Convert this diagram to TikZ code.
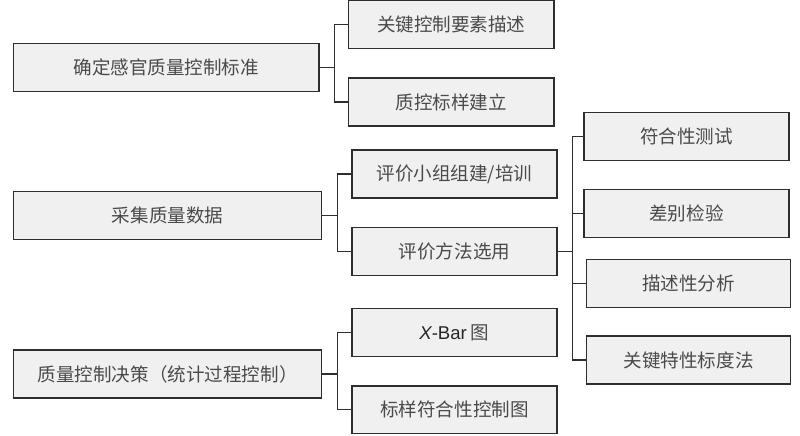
\documentclass[tikz,border=0pt]{standalone}
\usepackage{fontspec}
\setmainfont{Noto Sans CJK SC}
\newfontfamily\latinsans{Liberation Sans}
\usetikzlibrary{calc,positioning}
\definecolor{boxfill}{HTML}{F0F0F0}
\definecolor{boxline}{HTML}{2E2E2E}
\definecolor{boxtext}{HTML}{4A4A4A}
\begin{document}
\begin{tikzpicture}[line width=0.95pt,
    box/.style={draw=boxline,fill=boxfill,text=boxtext,anchor=west,inner sep=0pt,
      minimum height=1.2cm,font=\fontsize{13.2}{15}\selectfont},
    wide/.style={box,minimum width=7.7cm},
    small/.style={box,minimum width=5.13cm},
    link/.style={draw=boxline}]
  \useasboundingbox (0,0) rectangle (20,-10.875);
  % left column
  \node[wide, minimum width=7.63cm] (1) at (0.325,-1.69) {确定感官质量控制标准};
  \node[wide] (4) at (0.325,-5.39) {采集质量数据};
  \node[wide] (11) at (0.325,-9.35) {质量控制决策（统计过程控制）};
  % middle column
  \node[small] (2) at (8.7,-0.62) {关键控制要素描述};
  \node[small] (3) at (8.7,-2.55) {质控标样建立};
  \node[small] (5) at (8.78,-4.35) {评价小组组建/培训};
  \node[small] (6) at (8.78,-6.28) {评价方法选用};
  \node[small] (12) at (8.78,-8.31) {{\latinsans\color{black!85}\itshape X}{\latinsans\color{black!85}-Bar} 图};
  \node[small, minimum height=1.18cm] (13) at (8.78,-10.24) {标样符合性控制图};
  % right column
  \node[small] (7) at (14.58,-3.41) {符合性测试};
  \node[small] (8) at (14.58,-5.33) {差别检验};
  \node[small, minimum width=5.1cm] (9) at (14.65,-7.08) {描述性分析};
  \node[small, minimum width=5.1cm] (10) at (14.65,-9.0) {关键特性标度法};

  \foreach \c in {2,3}
    \draw[link] (1.east) -- ++(0.375,0) |- (\c.west);
  \foreach \c in {5,6}
    \draw[link] (4.east) -- ++(0.375,0) |- (\c.west);
  \foreach \c in {12,13}
    \draw[link] (11.east) -- ++(0.375,0) |- (\c.west);
  \foreach \c in {7,8,9,10}
    \draw[link] (6.east) -- ++(0.375,0) |- (\c.west);
\end{tikzpicture}
\end{document}
